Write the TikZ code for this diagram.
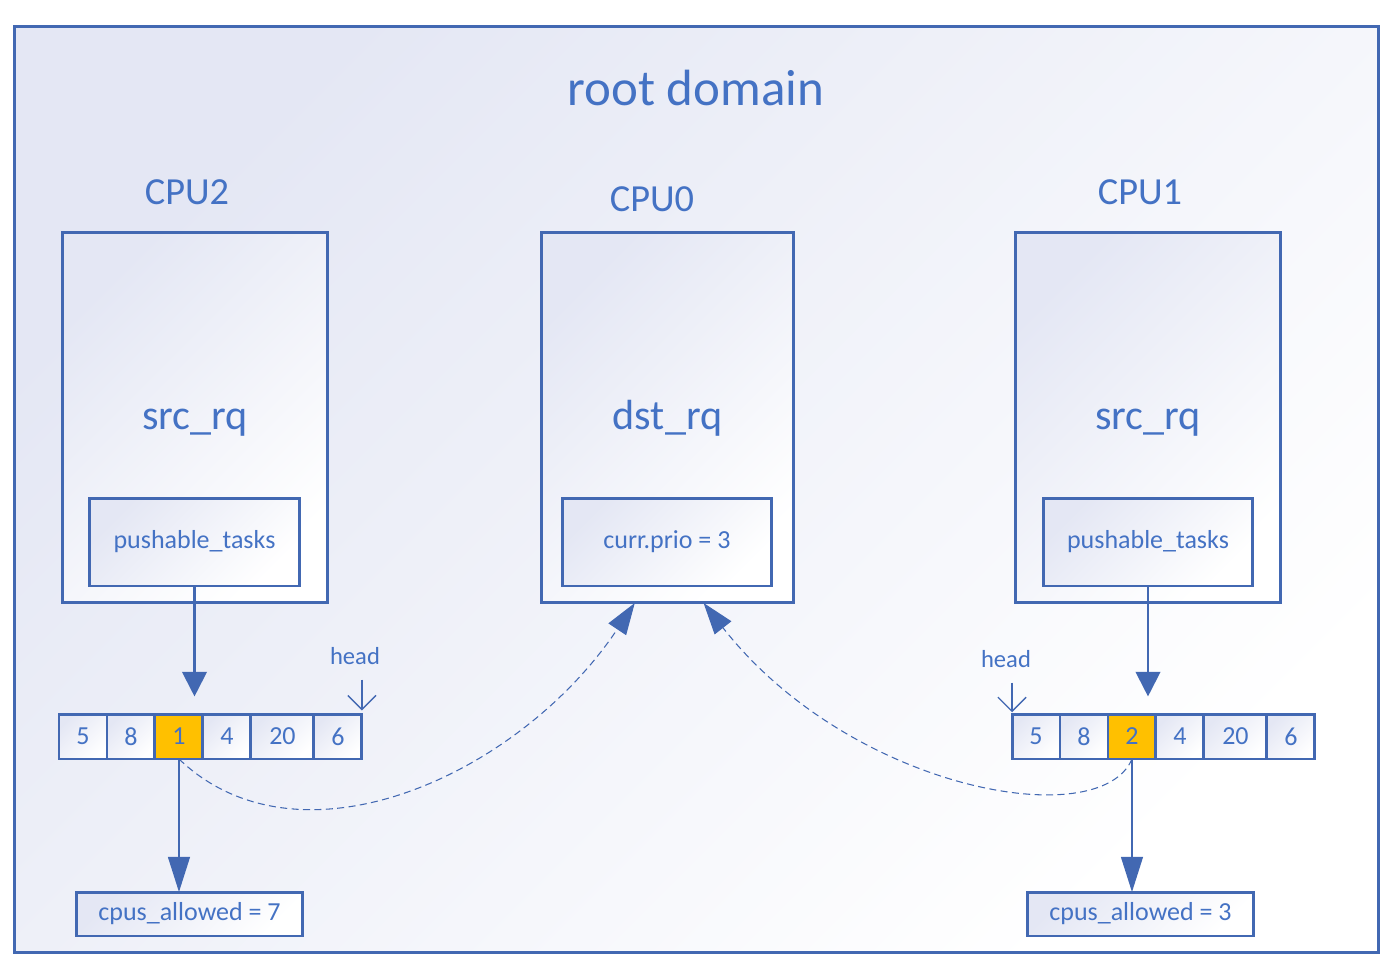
\documentclass[tikz,border=0pt]{standalone}
\usepackage{fontspec}
\setmainfont{Carlito}
\usetikzlibrary{arrows.meta,positioning}
\usepackage{xcolor}
\definecolor{rdblue}{RGB}{66,104,178}
\definecolor{rdtext}{RGB}{68,114,196}
\definecolor{rdshade}{RGB}{228,231,244}
\definecolor{rdorange}{RGB}{255,192,0}

\begin{document}
\begin{tikzpicture}[x=0.02cm,y=-0.02cm]
\tikzstyle{shaded} = [draw=rdblue, line width=1.7pt, top color=rdshade,
bottom color=white, shading angle=45, outer sep=0pt, text=rdtext]
\tikzstyle{rootbox} = [rectangle, shaded, minimum width=27.3cm, minimum height=18.54cm]
\tikzstyle{cpu} = [rectangle, shaded, minimum width=5.32cm, minimum height=7.42cm,
font=\fontsize{24}{28}\selectfont, text height=14.2pt, text depth=0pt]
\tikzstyle{field} = [rectangle, shaded, minimum width=4.2cm, minimum height=1.76cm,
font=\fontsize{14.8}{18}\selectfont]
\tikzstyle{cell} = [rectangle, shaded, minimum width=0.96cm, minimum height=0.9cm,
inner sep=0pt, font=\fontsize{14.8}{18}\selectfont]
\tikzstyle{wide} = [cell, minimum width=1.26cm]
\tikzstyle{hot} = [cell, top color=rdorange, bottom color=rdorange]
\tikzstyle{mask} = [rectangle, shaded, minimum width=4.54cm, minimum height=0.88cm,
font=\fontsize{14.8}{18}\selectfont]
\tikzstyle{rdtitle} = [text=rdtext, font=\fontsize{29}{34}\selectfont]
\tikzstyle{cpulabel} = [text=rdtext, font=\fontsize{21.8}{26}\selectfont]
\tikzstyle{headtext} = [text=rdtext, font=\fontsize{14}{17}\selectfont]
\tikzstyle{push} = [draw=rdblue, line width=1.2pt, -{Triangle[length=14pt,width=14pt]}]
\tikzstyle{pick} = [draw=rdblue, line width=0.8pt, -{Triangle[length=20pt,width=12.5pt]}]
\tikzstyle{pull} = [draw=rdblue, line width=0.6pt, dash pattern=on 4pt off 2.5pt,
-{Triangle[length=18pt,width=12pt]}]
\tikzstyle{headptr} = [draw=rdblue, line width=0.8pt, -{Straight Barb[length=8pt,width=16pt]}]

\fill[white] (0,0) rectangle (1394,974);
\useasboundingbox (0,0) rectangle (1394,974);

% domain
\node [rootbox] (root) at (696.5,489.5) {};
\node [rdtitle] (title) at (696,88) {root domain};

% cpus
\node [cpulabel] (lab2) at (187,192) {CPU2};
\node [cpulabel] (lab0) at (652,199) {CPU0};
\node [cpulabel] (lab1) at (1140,192) {CPU1};
\node [cpu] (cpu2) at (195,417.5) {src\_rq};
\node [cpu, minimum width=5.06cm] (cpu0) at (667.5,417.5) {dst\_rq};
\node [cpu] (cpu1) at (1148,417.5) {src\_rq};
\node [field] (push2) at (194.5,542) {pushable\_tasks};
\node [field] (prio) at (667,542) {curr.prio = 3};
\node [field] (push1) at (1148,542) {pushable\_tasks};

% left list
\node [cell] (l1) at (83,736.5) {5};
\node [cell, right=0pt of l1] (l2) {8};
\node [hot, right=0pt of l2] (l3) {1};
\node [cell, right=0pt of l3] (l4) {4};
\node [wide, right=0pt of l4] (l5) {20};
\node [cell, right=0pt of l5] (l6) {6};
\node [headtext] (head2) at (355,656) {head};

% right list
\node [cell] (r1) at (1036,736.5) {5};
\node [cell, right=0pt of r1] (r2) {8};
\node [hot, right=0pt of r2] (r3) {2};
\node [cell, right=0pt of r3] (r4) {4};
\node [wide, right=0pt of r4] (r5) {20};
\node [cell, right=0pt of r5] (r6) {6};
\node [headtext] (head1) at (1006,659) {head};

% masks
\node [mask] (mask2) at (189.5,914) {cpus\_allowed = 7};
\node [mask] (mask1) at (1140.5,914) {cpus\_allowed = 3};

\path [push, shorten >=10pt] (push2.south) -- (push2.south |- l3.north);
\path [push, shorten >=10pt] (push1.south) -- (push1.south |- r3.north);
\path [headptr, shorten >=2pt] ([yshift=-5pt]head2.south -| l6.north east) -- (l6.north east);
\path [headptr, shorten >=1pt] ([yshift=-5pt]head1.south -| r1.north west) -- (r1.north west);
\path [pick] (l3.south) -- (l3.south |- mask2.north);
\path [pick] (r3.south) -- (r3.south |- mask1.north);
\path [pull] (l3.south) .. controls (300,875) and (520,775) .. (cpu0.-100);
\path [pull] (r3.south) .. controls (1100,835) and (850,790) .. (cpu0.-79);
\end{tikzpicture}
\end{document}
